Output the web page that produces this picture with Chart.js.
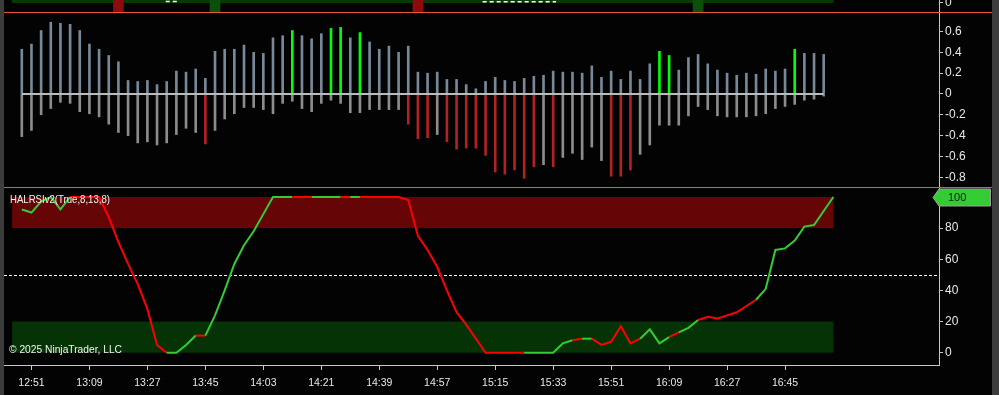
<!DOCTYPE html>
<html>
<head>
<meta charset="utf-8">
<title>HALRSIv2</title>
<script src="https://cdn.jsdelivr.net/npm/chart.js@4.4.1/dist/chart.umd.min.js"></script>
<style>
  html, body { margin: 0; padding: 0; background: #3c3c3c; overflow: hidden; }
  #wrap { position: absolute; left: 4px; top: 0; width: 988px; height: 395px; }
</style>
</head>
<body>
<div id="wrap"><canvas id="chart"></canvas></div>
<script>
// bar 0 = 12:48, one bar every 3 minutes
const tickLabels = ["12:51", "13:09", "13:27", "13:45", "14:03", "14:21", "14:39",
  "14:57", "15:15", "15:33", "15:51", "16:09", "16:27", "16:45"];
const firstTickBar = 1;
const barsPerTick = 6;

// middle pane: oscillator, upper and lower part of every bar
const oscUp = [0.43, 0.48, 0.61, 0.69, 0.68, 0.67, 0.61, 0.48, 0.43, 0.37, 0.31, 0.13, 0.12, 0.13, 0.09, 0.12,
  0.22, 0.21, 0.24, 0.15, 0.41, 0.43, 0.43, 0.47, 0.40, 0.39, 0.54, 0.56, 0.61, 0.56, 0.53, 0.58,
  0.63, 0.64, 0.54, 0.59, 0.50, 0.43, 0.46, 0.40, 0.46, 0.21, 0.20, 0.21, 0.14, 0.14, 0.09, 0.05,
  0.12, 0.16, 0.13, 0.12, 0.15, 0.17, 0.18, 0.22, 0.21, 0.21, 0.20, 0.27, 0.16, 0.22, 0.14, 0.22,
  0.14, 0.29, 0.41, 0.37, 0.23, 0.35, 0.38, 0.29, 0.23, 0.20, 0.18, 0.20, 0.19, 0.24, 0.22, 0.24,
  0.43, 0.39, 0.39, 0.38];
const oscDown = [-0.41, -0.35, -0.20, -0.14, -0.08, -0.09, -0.17, -0.19, -0.22, -0.29, -0.37, -0.40, -0.47, -0.46, -0.49, -0.47,
  -0.39, -0.33, -0.37, -0.48, -0.35, -0.24, -0.19, -0.13, -0.13, -0.15, -0.19, -0.09, -0.07, -0.14, -0.17, -0.09,
  -0.06, -0.09, -0.18, -0.18, -0.15, -0.15, -0.15, -0.15, -0.29, -0.43, -0.42, -0.39, -0.46, -0.53, -0.52, -0.52,
  -0.59, -0.75, -0.77, -0.73, -0.81, -0.70, -0.68, -0.70, -0.61, -0.57, -0.63, -0.51, -0.64, -0.79, -0.79, -0.73,
  -0.58, -0.49, -0.30, -0.30, -0.30, -0.21, -0.12, -0.15, -0.21, -0.22, -0.22, -0.22, -0.21, -0.19, -0.14, -0.12,
  -0.10, -0.06, -0.05, -0.02];
const greenBars = [28, 32, 33, 35, 66, 67, 80];
const redBars = [19, 40, 41, 42, 44, 45, 46, 47, 48, 49, 50, 51, 52, 53, 55, 61, 62, 63];
const oscTicks = [0.6, 0.4, 0.2, 0, -0.2, -0.4, -0.6, -0.8];

// lower pane: HALRSIv2 line; 1 = segment drawn green, -1 = red
const rsiValues = [92, 90, 97, 100, 92, 100, 100, 100, 100, 87, 71, 57, 44, 28, 5, 0,
  0, 5, 11, 11, 24, 40, 57, 69, 78, 89, 100, 100, 100, 100, 100, 100,
  100, 100, 100, 100, 100, 100, 100, 100, 98, 75, 66, 55, 40, 26, 18, 9,
  0, 0, 0, 0, 0, 0, 0, 0, 6, 8, 9, 9, 5, 7, 17, 6,
  9, 15, 6, 10, 13, 16, 21, 23, 22, 24, 26, 30, 34, 41, 66, 67,
  72, 81, 82, 91, 100];
const rsiDir = [1, 1, 1, 1, 1, 1, -1, -1, -1, -1, -1, -1, -1, -1, -1, -1,
  1, 1, 1, -1, 1, 1, 1, 1, 1, 1, 1, 1, 1, -1, -1, 1,
  1, 1, -1, 1, -1, -1, -1, -1, -1, -1, -1, -1, -1, -1, -1, -1,
  -1, -1, -1, -1, -1, 1, 1, 1, 1, 1, -1, 1, -1, -1, -1, -1,
  -1, 1, 1, 1, -1, 1, 1, -1, -1, -1, -1, -1, -1, 1, 1, 1,
  1, 1, 1, 1, 1];
const rsiTicks = [0, 20, 40, 60, 80];
const overbought = [80, 100];
const oversold = [0, 20];
const midLevel = 50;

// top pane: signal blocks and the cut-off white marker
const signalBars = [10, 20, 41, 70];
const signalDir = [-1, 1, -1, 1];
const topTicks = [0];
const markerX = [14.9, 16.3, 30, 47.7, 55.3];
const markerY = [0.5, 0.5, null, 0.4, 0.4];

const TOP_MIN = -3, TOP_MAX = 1;

Chart.defaults.font.family = "'Liberation Sans', Arial, sans-serif";
Chart.defaults.font.size = 12;
Chart.defaults.color = "#e8e8e8";

function yPane(weight, min, max, ticks, fmt) {
  return {
    type: "linear",
    position: "right",
    stack: "panes",
    stackWeight: weight,
    min: min,
    max: max,
    afterFit: (s) => {
      s.width = 53;
      s.paddingTop = 0;
      s.paddingBottom = 0;
    },
    afterBuildTicks: (s) => { s.ticks = ticks.map((v) => ({ value: v })); },
    border: { display: true, color: "#c8c8c8", width: 1 },
    grid: { drawOnChartArea: false, drawTicks: true, tickLength: 4, color: "#c8c8c8" },
    ticks: { color: "#e8e8e8", padding: 2, autoSkip: false, callback: fmt },
  };
}

const panes = {
  id: "panes",
  beforeDraw(chart) {
    const { ctx, width, height } = chart;
    ctx.save();
    ctx.fillStyle = "#030303";
    ctx.fillRect(0, 0, width, height);
    ctx.restore();
  },
  beforeDatasetsDraw(chart) {
    const { ctx, chartArea: a } = chart;
    const { x, yTop, yRsi } = chart.scales;
    const x0 = x.getPixelForValue(-1);
    const x1 = x.getPixelForValue(rsiValues.length - 1);
    const band = (scale, lo, hi, color) => {
      const top = scale.getPixelForValue(hi);
      const bottom = scale.getPixelForValue(lo);
      ctx.fillStyle = color;
      ctx.fillRect(x0, top, x1 - x0, bottom - top);
    };
    ctx.save();
    band(yRsi, overbought[0], overbought[1], "#650505");
    band(yRsi, oversold[0], oversold[1], "#053305");
    band(yTop, 0, TOP_MAX, "#083a08");

    // 50 level
    const ym = Math.round(yRsi.getPixelForValue(midLevel)) + 0.5;
    ctx.strokeStyle = "#ffffff";
    ctx.lineWidth = 1;
    ctx.setLineDash([3, 2]);
    ctx.beginPath();
    ctx.moveTo(a.left, ym);
    ctx.lineTo(a.right - 2, ym);
    ctx.stroke();
    ctx.restore();
  },
  afterDraw(chart) {
    const { ctx, chartArea: a, width } = chart;
    const { yOsc, yRsi } = chart.scales;
    ctx.save();

    // pane separators
    ctx.strokeStyle = "#f0553c";
    ctx.lineWidth = 1;
    [yOsc.top, yRsi.top].forEach((t) => {
      const yy = Math.round(t) + 0.5;
      ctx.beginPath();
      ctx.moveTo(0, yy);
      ctx.lineTo(width, yy);
      ctx.stroke();
    });

    // labels
    ctx.fillStyle = "#f4f4f4";
    ctx.font = "11px 'Liberation Sans', Arial, sans-serif";
    ctx.textBaseline = "middle";
    ctx.textAlign = "left";
    ctx.fillText("HALRSIv2(True,8,13,8)", 6, yRsi.top + 13, 100);
    ctx.fillText("\u00a9 2025 NinjaTrader, LLC", 5, yRsi.bottom - 15, 113);

    // last value marker
    const last = rsiValues[rsiValues.length - 1];
    const yy = Math.round(yRsi.getPixelForValue(last)) + 0.5;
    const bx = a.right;
    ctx.beginPath();
    ctx.moveTo(bx - 6, yy);
    ctx.lineTo(bx, yy - 8.5);
    ctx.lineTo(width - 1.5, yy - 8.5);
    ctx.lineTo(width - 1.5, yy + 8.5);
    ctx.lineTo(bx, yy + 8.5);
    ctx.closePath();
    ctx.fillStyle = "#33cc33";
    ctx.fill();
    ctx.strokeStyle = "#a0a0a0";
    ctx.stroke();
    ctx.fillStyle = "#111111";
    ctx.font = "11px 'Liberation Sans', Arial, sans-serif";
    ctx.fillText(String(last), bx + 9, yy);
    ctx.restore();
  },
};

new Chart(document.getElementById("chart"), {
  type: "line",
  data: {
    datasets: [
      {
        type: "line",
        yAxisID: "yOsc",
        data: [{ x: 0, y: 0 }, { x: oscUp.length - 1, y: 0 }],
        borderColor: "#bcbcbc",
        borderWidth: 2,
        pointRadius: 0,
      },
      {
        type: "line",
        yAxisID: "yRsi",
        data: rsiValues.map((v, i) => ({ x: i, y: v })),
        borderWidth: 2,
        pointRadius: 0,
        tension: 0,
        segment: {
          borderColor: (c) => (rsiDir[c.p1DataIndex] > 0 ? "#32cd32" : "#ff0000"),
        },
      },
      {
        type: "line",
        yAxisID: "yTop",
        data: markerX.map((v, i) => ({ x: v, y: markerY[i] })),
        borderColor: "#ffffff",
        borderWidth: 1.5,
        borderDash: [4, 3],
        pointRadius: 0,
        spanGaps: false,
      },
      {
        type: "bar",
        yAxisID: "yOsc",
        grouped: false,
        barThickness: 2,
        data: oscUp.map((v, i) => ({ x: i, y: v })),
        backgroundColor: (c) => (greenBars.includes(c.dataIndex) ? "#00ff00" : "#778899"),
      },
      {
        type: "bar",
        yAxisID: "yOsc",
        grouped: false,
        barThickness: 2,
        data: oscDown.map((v, i) => ({ x: i, y: v })),
        backgroundColor: (c) => (redBars.includes(c.dataIndex) ? "#b22222" : "#8c8c8c"),
      },
      {
        type: "bar",
        yAxisID: "yTop",
        grouped: false,
        barThickness: 10,
        data: signalBars.map((v) => ({ x: v, y: [TOP_MIN, TOP_MAX] })),
        backgroundColor: (c) => (signalDir[c.dataIndex] > 0 ? "#0a4f0a" : "#8e0b0b"),
      },
    ],
  },
  options: {
    responsive: true,
    maintainAspectRatio: false,
    animation: false,
    devicePixelRatio: 1,
    layout: { padding: 0 },
    plugins: { legend: { display: false }, tooltip: { enabled: false } },
    scales: {
      x: {
        type: "linear",
        position: "bottom",
        offset: false,
        min: -1.842,
        max: 94.935,
        afterFit: (s) => {
          s.height = 30;
          s.paddingLeft = 0;
          s.paddingRight = 0;
        },
        afterBuildTicks: (s) => {
          s.ticks = tickLabels.map((_, i) => ({ value: firstTickBar + i * barsPerTick }));
        },
        border: { display: true, color: "#c8c8c8", width: 1 },
        grid: { offset: false, drawOnChartArea: false, drawTicks: true, tickLength: 5, color: "#c8c8c8" },
        ticks: {
          color: "#e8e8e8",
          padding: 7,
          autoSkip: false,
          maxRotation: 0,
          font: { family: "'Liberation Sans Narrow', 'Liberation Sans', sans-serif", size: 10.5 },
          callback: (v, i) => tickLabels[i],
        },
      },
      yTop: yPane(12, TOP_MIN, TOP_MAX, topTicks, (v) => String(v)),
      yOsc: yPane(175, -0.894, 0.788, oscTicks, (v) => String(Math.round(v * 10) / 10)),
      yRsi: yPane(178, -7.9, 106.42, rsiTicks, (v) => String(v)),
    },
  },
  plugins: [panes],
});
</script>
</body>
</html>
